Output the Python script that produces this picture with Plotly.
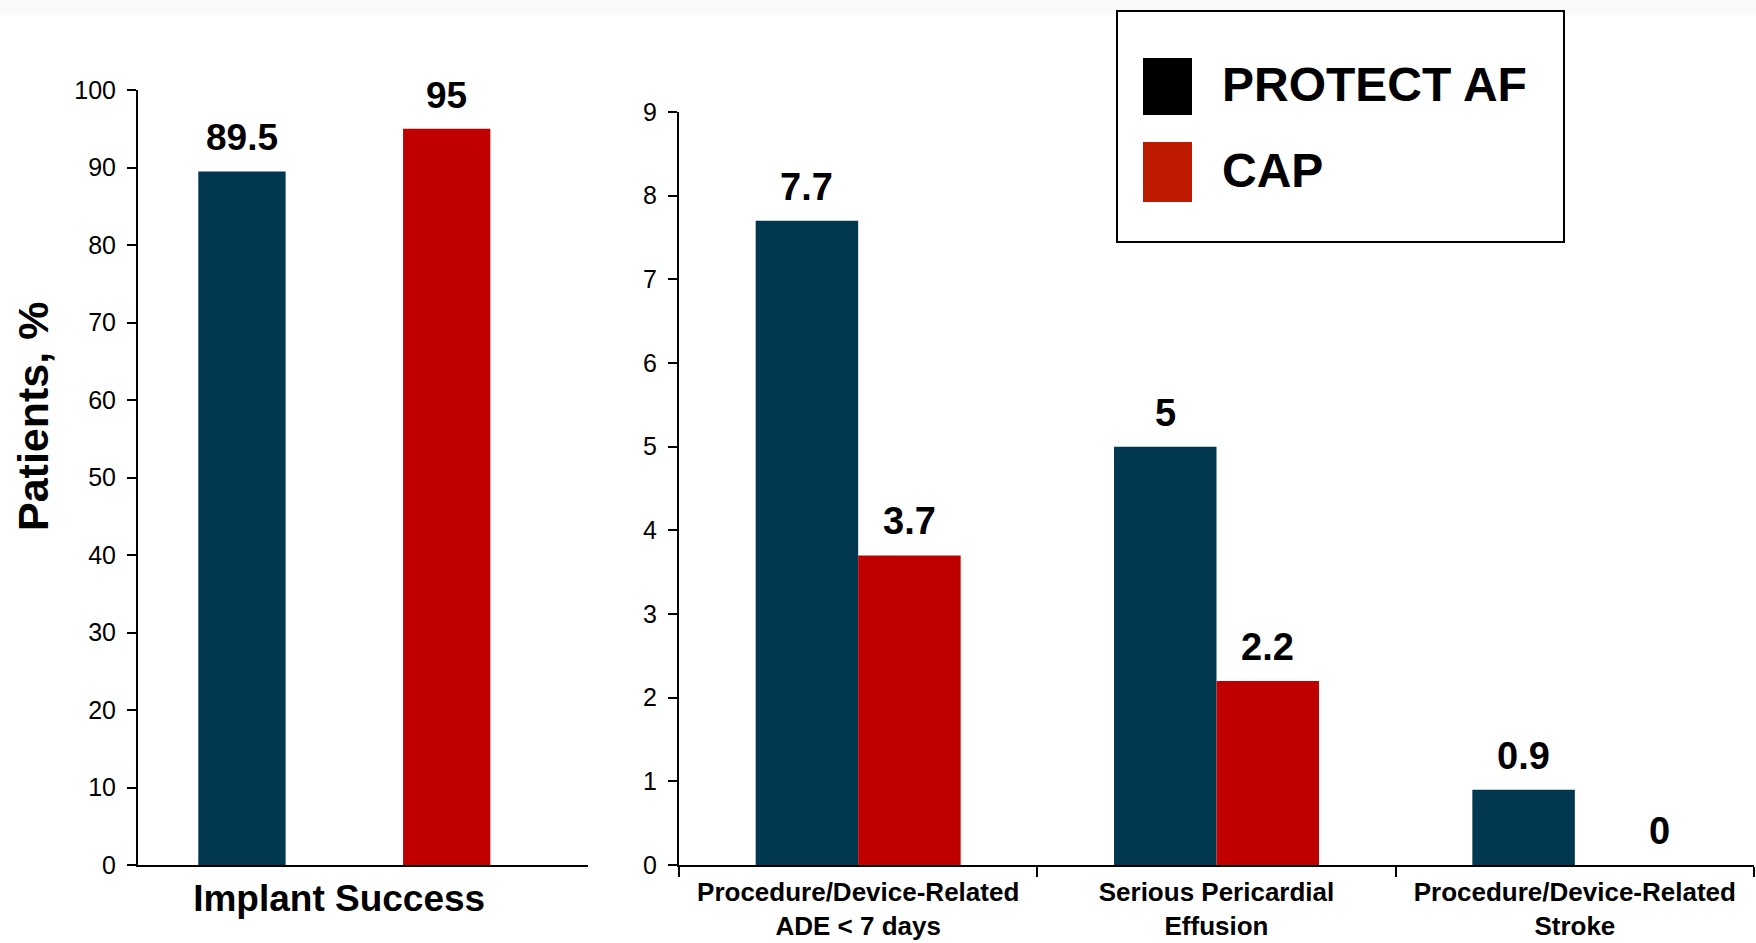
import plotly.graph_objects as go

# ---- data ----
implant_category = ["Implant Success"]
implant_protect_af = [89.5]
implant_cap = [95]

safety_categories = [
    "Procedure/Device-Related<br>ADE &lt; 7 days",
    "Serious Pericardial<br>Effusion",
    "Procedure/Device-Related<br>Stroke",
]
safety_protect_af = [7.7, 5, 0.9]
safety_cap = [3.7, 2.2, 0]

series_names = ["PROTECT AF", "CAP"]
left_ticks = list(range(0, 101, 10))
right_ticks = list(range(0, 10, 1))

NAVY = "#023750"
RED = "#C00000"
LEGEND_RED = "#BE1A00"
FONT = "Liberation Sans, Arial, sans-serif"

W, H = 1756, 943

fig = go.Figure()

# faint band along the top edge
fig.add_shape(type="rect", xref="paper", yref="paper", x0=0, x1=1,
              y0=1 - 15 / H, y1=1, line=dict(width=0), fillcolor="#FAFAFA", layer="below")

# left panel: implant success, two bars on one category
left_width = 0.194
left_offsets = [-0.313, 0.142]
for vals, color, off, name in zip([implant_protect_af, implant_cap], [NAVY, RED],
                                  left_offsets, series_names):
    fig.add_trace(go.Bar(x=implant_category, y=vals, marker=dict(color=color, line=dict(width=0)),
                         width=left_width, offset=off, xaxis="x", yaxis="y",
                         name=name, showlegend=False))
    for v in vals:
        fig.add_annotation(x=off + left_width / 2, y=v, xref="x", yref="y",
                           text=f"{v:g}", showarrow=False, xanchor="center",
                           yanchor="bottom", yshift=11,
                           font=dict(family=FONT, size=37, color="black", weight="bold"))

# right panel: procedural safety events
bar_gap = 0.428
half = (1 - bar_gap) / 2
for vals, color, shift, name in zip([safety_protect_af, safety_cap], [NAVY, RED],
                                    [-half / 2, half / 2], series_names):
    fig.add_trace(go.Bar(x=safety_categories, y=vals, marker=dict(color=color, line=dict(width=0)),
                         xaxis="x2", yaxis="y2", name=name, showlegend=False))
    for i, v in enumerate(vals):
        # a zero-height bar gets its label nudged right, clear of the neighbouring bar
        fig.add_annotation(x=i + shift, y=v, xref="x2", yref="y2",
                           text=f"{v:g}", showarrow=False, xanchor="center",
                           yanchor="bottom", yshift=11, xshift=33 if v == 0 else 0,
                           font=dict(family=FONT, size=38, color="black", weight="bold"))

axis_common = dict(showline=True, linecolor="black", linewidth=2, showgrid=False,
                   zeroline=False, tickcolor="black", automargin=False)

fig.update_layout(
    width=W, height=H,
    margin=dict(l=0, r=0, t=0, b=0, autoexpand=False),
    paper_bgcolor="white", plot_bgcolor="white",
    barmode="group", bargap=bar_gap, bargroupgap=0,
    font=dict(family=FONT, color="black"),
    xaxis=dict(**axis_common, domain=[138 / W, 588 / W], type="category",
               range=[-0.447, 0.553], ticks="", ticklen=0, anchor="y",
               tickfont=dict(size=37, weight="bold"), ticklabelstandoff=0),
    yaxis=dict(**axis_common, domain=[1 - 865 / H, 1 - 90 / H], range=[0, 100],
               tickvals=left_ticks, ticks="outside", ticklen=9, tickwidth=1.5,
               tickfont=dict(size=25), ticklabelstandoff=6, anchor="x"),
    xaxis2=dict(**axis_common, domain=[679 / W, 1754 / W], type="category",
                range=[-0.5, 2.5], ticks="outside", tickson="boundaries",
                ticklen=10, tickwidth=1.5, anchor="y2",
                tickfont=dict(size=26, weight="bold"), ticklabelstandoff=3),
    yaxis2=dict(**axis_common, domain=[1 - 865 / H, 1 - 112 / H], range=[0, 9],
                tickvals=right_ticks, ticks="outside", ticklen=9, tickwidth=1.5,
                tickfont=dict(size=25), ticklabelstandoff=6, anchor="x2"),
)

# y-axis title
fig.add_annotation(x=33 / W, y=1 - 417 / H, xref="paper", yref="paper",
                   text="Patients, %", textangle=-90, showarrow=False,
                   xanchor="center", yanchor="middle",
                   font=dict(family=FONT, size=43, color="black", weight="bold"))

# legend box
def px_rect(x0, y0, x1, y1, **kw):
    fig.add_shape(type="rect", xref="paper", yref="paper",
                  x0=x0 / W, x1=x1 / W, y0=1 - y1 / H, y1=1 - y0 / H, **kw)

px_rect(1117, 11, 1564, 242, line=dict(color="black", width=2), fillcolor="white")
px_rect(1143, 58, 1192, 115, line=dict(width=0), fillcolor="black")
px_rect(1143, 142, 1192, 202, line=dict(width=0), fillcolor=LEGEND_RED)
for name, yc in zip(series_names, [84, 170]):
    fig.add_annotation(x=1220 / W, y=1 - yc / H, xref="paper", yref="paper",
                       text=name, showarrow=False, xanchor="left", yanchor="middle",
                       font=dict(family=FONT, size=48, color="black", weight="bold"))

fig.write_html("out.html")
